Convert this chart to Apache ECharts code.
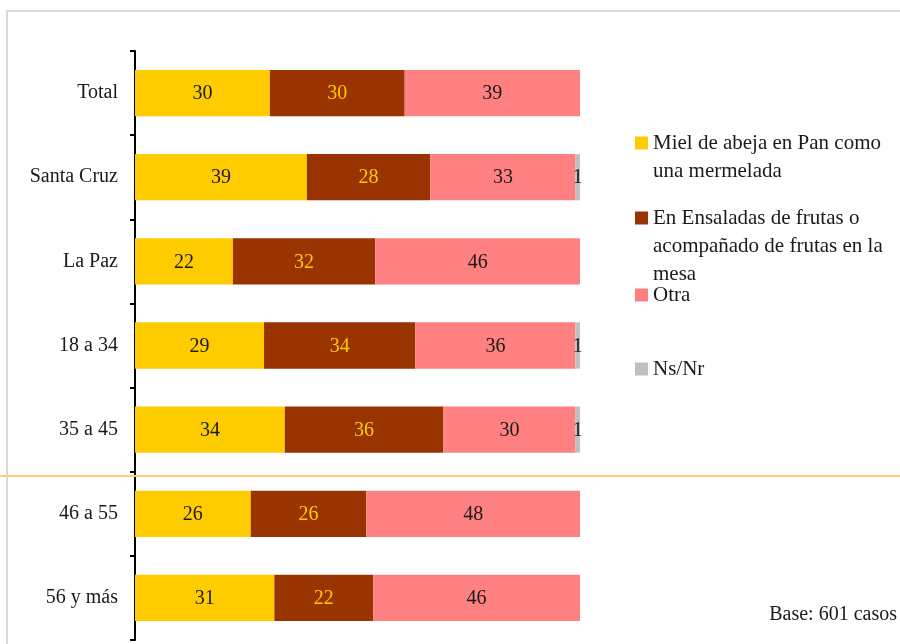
<!DOCTYPE html>
<html>
<head>
<meta charset="utf-8">
<script src="https://cdn.jsdelivr.net/npm/echarts@6/dist/echarts.min.js"></script>
<style>
html,body{margin:0;padding:0;background:#fff;}
#chart{width:900px;height:644px;}
</style>
</head>
<body>
<div id="chart"></div>
<script>
const categories = ['Total', 'Santa Cruz', 'La Paz', '18 a 34', '35 a 45', '46 a 55', '56 y más'];
const miel = [30, 39, 22, 29, 34, 26, 31];
const ensaladas = [30, 28, 32, 34, 36, 26, 22];
const otra = [39, 33, 46, 36, 30, 48, 46];
const nsnr = [0, 1, 0, 1, 1, 0, 0];
const seriesNames = ['Miel de abeja en Pan como\nuna mermelada', 'En Ensaladas de frutas o\nacompañado de frutas en la\nmesa', 'Otra', 'Ns/Nr'];
const colors = ['#FFCC00', '#993300', '#FF8080', '#C0C0C0'];
const labelColors = ['#1a1a1a', '#FFCC00', '#1a1a1a', '#1a1a1a'];

const FONT = '"Liberation Serif", "DejaVu Serif", serif';
const FS = 20;
const raw = [miel, ensaladas, otra, nsnr];
const totals = categories.map((c, i) => raw.reduce((s, arr) => s + arr[i], 0));

const series = raw.map((arr, k) => ({
  name: seriesNames[k],
  type: 'bar',
  stack: 'all',
  barWidth: '55%',
  itemStyle: { color: colors[k] },
  data: arr.map((v, i) => ({ value: v / totals[i] * 100, orig: v })),
  label: {
    show: true,
    position: 'inside',
    offset: [0, 1],
    color: labelColors[k],
    fontFamily: FONT,
    fontSize: FS,
    formatter: p => (p.data.orig ? String(p.data.orig) : '')
  },
  emphasis: { disabled: true }
}));

// centre (y) of the first text line of each legend entry
const legendCenters = [143, 218, 295, 369];
const LH = 28;
const legends = seriesNames.map((n, k) => {
  const lines = n.split('\n').length;
  const blockLines = 2 * lines - 1;
  return {
    data: [n],
    left: 635,
    top: legendCenters[k] - blockLines * LH / 2,
    orient: 'vertical',
    itemWidth: 13,
    itemHeight: 13,
    itemGap: 0,
    padding: 0,
    icon: 'rect',
    selectedMode: false,
    formatter: name => '\n'.repeat(lines - 1) + name,
    textStyle: {
      fontFamily: FONT,
      fontSize: 21,
      color: '#1a1a1a',
      lineHeight: LH
    }
  };
});

const chart = echarts.init(document.getElementById('chart'));
chart.setOption({
  animation: false,
  backgroundColor: '#fff',
  grid: { left: 135, right: 320, top: 51, bottom: 4, containLabel: false },
  xAxis: { type: 'value', min: 0, max: 100, show: false },
  yAxis: {
    type: 'category',
    inverse: true,
    data: categories,
    axisLine: { show: true, lineStyle: { color: '#000', width: 2 } },
    axisTick: { show: true, inside: false, length: 5, lineStyle: { color: '#000', width: 2 } },
    axisLabel: { fontFamily: FONT, fontSize: FS, color: '#1a1a1a', margin: 17 }
  },
  legend: legends,
  series: series,
  graphic: [
    { type: 'rect', shape: { x: 7, y: 11, width: 900, height: 640 }, style: { fill: 'none', stroke: '#d9d9d9', lineWidth: 2 }, z: -1 },
    { type: 'line', shape: { x1: 0, y1: 476, x2: 900, y2: 476 }, style: { stroke: '#FFC97F', lineWidth: 2 }, z: 100 },
    { type: 'text', right: 3, top: 605, style: { text: 'Base: 601 casos', fontFamily: FONT, fontSize: FS, fill: '#1a1a1a' } }
  ]
});
</script>
</body>
</html>
